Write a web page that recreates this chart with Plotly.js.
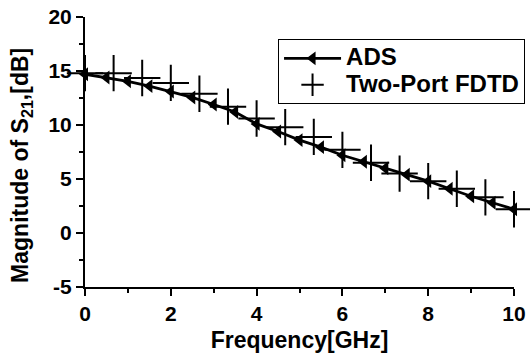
<!DOCTYPE html>
<html>
<head>
<meta charset="utf-8">
<script src="https://cdn.plot.ly/plotly-3.0.1.min.js"></script>
<style>html,body{margin:0;padding:0;background:#fff;}#chart{width:530px;height:358px;}</style>
</head>
<body>
<div id="chart"></div>
<script>
// ADS simulation (frequency in GHz, |S21| in dB)
var adsFreq = [0, 0.5, 1, 1.5, 2, 2.5, 3, 3.5, 4, 4.5, 5, 5.5, 6, 6.5, 7, 7.5, 8, 8.5, 9, 9.5, 10];
var adsS21  = [14.7, 14.4, 14.05, 13.6, 13.1, 12.55, 11.9, 11.2, 10.1, 9.4, 8.6, 7.95, 7.2, 6.6, 6.0, 5.4, 4.8, 4.1, 3.4, 2.8, 2.2];
// Two-Port FDTD
var fdtdFreq = [0, 0.667, 1.333, 2, 2.667, 3.333, 4, 4.667, 5.333, 6, 6.667, 7.333, 8, 8.667, 9.333, 10];
var fdtdS21  = [14.8, 14.8, 14.35, 13.9, 12.9, 11.7, 10.6, 9.8, 8.9, 7.7, 6.5, 5.5, 4.8, 4.1, 3.3, 2.2];
var xTickVals = [0, 2, 4, 6, 8, 10];
var yTickVals = [-5, 0, 5, 10, 15, 20];
var seriesNames = ['ADS', 'Two-Port FDTD'];
var xTitle = 'Frequency[GHz]';
var yTitle = 'Magnitude of S<sub>21</sub>,[dB]';

var FONT = 'Liberation Sans, Arial, sans-serif';
function big(t) { return '<span style="font-size:24px">' + t + '</span>'; }

var traces = [
  {
    x: adsFreq, y: adsS21, name: big(seriesNames[0]), type: 'scatter', mode: 'lines+markers',
    line: {color: '#000', width: 2.8},
    marker: {symbol: 'triangle-left', size: 12, color: '#000'},
    cliponaxis: false
  },
  {
    x: fdtdFreq, y: fdtdS21, name: big(seriesNames[1]), type: 'scatter', mode: 'markers',
    marker: {symbol: 'cross-thin-open', size: 26, color: '#000', line: {color: '#000', width: 2}},
    cliponaxis: false
  }
];

var layout = {
  width: 530, height: 358,
  margin: {l: 85, r: 16, t: 17, b: 71, autoexpand: false},
  paper_bgcolor: '#fff', plot_bgcolor: '#fff',
  font: {family: FONT, size: 20, color: '#000', weight: 'bold'},
  showlegend: true,
  legend: {
    x: 0.45, y: 0.918, xanchor: 'left', yanchor: 'top',
    bgcolor: '#fff', bordercolor: '#000', borderwidth: 1,
    font: {family: FONT, size: 18, color: '#000', weight: 'bold'},
    itemwidth: 57, tracegroupgap: 0
  },
  xaxis: {
    range: [0, 10], tickvals: xTickVals, ticktext: xTickVals.map(String),
    showline: true, linecolor: '#000', linewidth: 2, mirror: false,
    ticks: 'outside', ticklen: 7, tickwidth: 2, tickcolor: '#000',
    minor: {dtick: 1, ticks: 'outside', ticklen: 4, tickwidth: 2, tickcolor: '#000', showgrid: false},
    showgrid: false, zeroline: false, automargin: false,
    tickfont: {family: FONT, size: 21, color: '#000', weight: 'bold'},
    title: {text: xTitle, font: {family: FONT, size: 23, color: '#000', weight: 'bold'}, standoff: 8}
  },
  yaxis: {
    range: [-5, 20], tickvals: yTickVals, ticktext: yTickVals.map(String),
    showline: true, linecolor: '#000', linewidth: 2, mirror: false,
    ticks: 'outside', ticklen: 7, tickwidth: 2, tickcolor: '#000',
    minor: {dtick: 2.5, ticks: 'outside', ticklen: 4, tickwidth: 2, tickcolor: '#000', showgrid: false},
    showgrid: false, zeroline: false, automargin: false,
    tickfont: {family: FONT, size: 21, color: '#000', weight: 'bold'}
  },
  annotations: [{
    text: yTitle, textangle: -90, showarrow: false,
    xref: 'paper', yref: 'paper', x: -0.147, y: 0.452, xanchor: 'center', yanchor: 'middle',
    font: {family: FONT, size: 23, color: '#000', weight: 'bold'}
  }]
};

Plotly.newPlot('chart', traces, layout, {displayModeBar: false, staticPlot: true});
</script>
</body>
</html>
